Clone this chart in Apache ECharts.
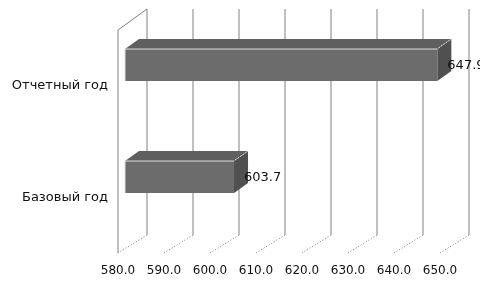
<!DOCTYPE html>
<html><head><meta charset="utf-8">
<script src="https://cdn.jsdelivr.net/npm/echarts@6/dist/echarts.min.js"></script>
<style>html,body{margin:0;padding:0;background:#fff}#c{width:480px;height:288px}</style>
</head><body><div id="c"></div>
<script>
const categories = ['Базовый год', 'Отчетный год'];
const values = [603.7, 647.9];
const tickValues = [580, 590, 600, 610, 620, 630, 640, 650];
const xMin = 580, xMax = 650, xStep = 10;

const DX = 29, DY = -21;      // wall depth
const BDX = 14, BDY = -10;    // bar depth
const FONT = 'DejaVu Sans';

const chart = echarts.init(document.getElementById('c'), null, {renderer: 'canvas'});
chart.setOption({
  animation: false,
  backgroundColor: '#fff',
  grid: {left: 118, right: 40, top: 30, bottom: 34},
  xAxis: {
    type: 'value', min: xMin, max: xMax, interval: xStep,
    axisLine: {show: false}, axisTick: {show: false}, splitLine: {show: false},
    axisLabel: {margin: 11, color: '#111', fontFamily: FONT, fontSize: 12,
      formatter: v => v.toFixed(1)}
  },
  yAxis: {
    type: 'category', data: categories,
    axisLine: {show: false}, axisTick: {show: false}, splitLine: {show: false},
    axisLabel: {margin: 10, color: '#111', fontFamily: FONT, fontSize: 13,
      padding: [3, 0, 0, 0]}
  },
  series: [
    {
      type: 'custom', silent: true, z: 1,
      data: tickValues.map(v => [v, 0]),
      renderItem: function (params, api) {
        const cs = params.coordSys;
        const x = api.coord([api.value(0), 0])[0];
        const top = cs.y, bottom = cs.y + cs.height;
        const children = [
          {type: 'line', shape: {x1: x + DX, y1: top + DY, x2: x + DX, y2: bottom - 19},
           style: {stroke: '#808080', lineWidth: 1}},
          {type: 'line', shape: {x1: x, y1: bottom - 1, x2: x + DX, y2: bottom - 19},
           style: {stroke: '#808080', lineWidth: 1, lineDash: [1, 2]}}
        ];
        if (params.dataIndex === 0) {
          children.push({type: 'line', shape: {x1: x, y1: top, x2: x, y2: bottom - 1},
            style: {stroke: '#808080', lineWidth: 1}});
          children.push({type: 'line', shape: {x1: x, y1: top, x2: x + DX, y2: top + DY},
            style: {stroke: '#808080', lineWidth: 1}});
        }
        return {type: 'group', children: children};
      }
    },
    {
      type: 'custom', z: 2,
      data: values.map((v, i) => [v, i]),
      renderItem: function (params, api) {
        const v = api.value(0), idx = api.value(1);
        const s = api.coord([xMin, idx]);
        const e = api.coord([v, idx]);
        const band = api.size([0, 1])[1];
        const h = band * 0.285;
        const cy = e[1] - 21;
        const x0 = s[0] + 7, x1 = e[0] + 7;
        const t = cy - h / 2, b = cy + h / 2;
        return {type: 'group', children: [
          {type: 'polygon', shape: {points: [[x0, t], [x1, t], [x1 + BDX, t + BDY], [x0 + BDX, t + BDY]]},
           style: {fill: '#5f5f5f'}},
          {type: 'polygon', shape: {points: [[x1, t], [x1 + BDX, t + BDY], [x1 + BDX, b + BDY], [x1, b]]},
           style: {fill: '#505050'}},
          {type: 'rect', shape: {x: x0, y: t, width: x1 - x0, height: h},
           style: {fill: '#6c6c6c'}},
          {type: 'polyline', shape: {points: [[x0, b], [x0, t], [x1, t]]},
           style: {stroke: '#e0e0e0', lineWidth: 1, fill: null}},
          {type: 'line', shape: {x1: x1 + 1, y1: t - 1, x2: x1 + BDX, y2: t + BDY},
           style: {stroke: '#dcdcdc', lineWidth: 1, lineDash: [2, 1]}},
          {type: 'text', style: {x: x1 + 10, y: cy + 1, text: v.toFixed(1), fill: '#111',
            font: '13px ' + FONT, verticalAlign: 'middle', align: 'left'}}
        ]};
      }
    }
  ]
});
</script></body></html>
